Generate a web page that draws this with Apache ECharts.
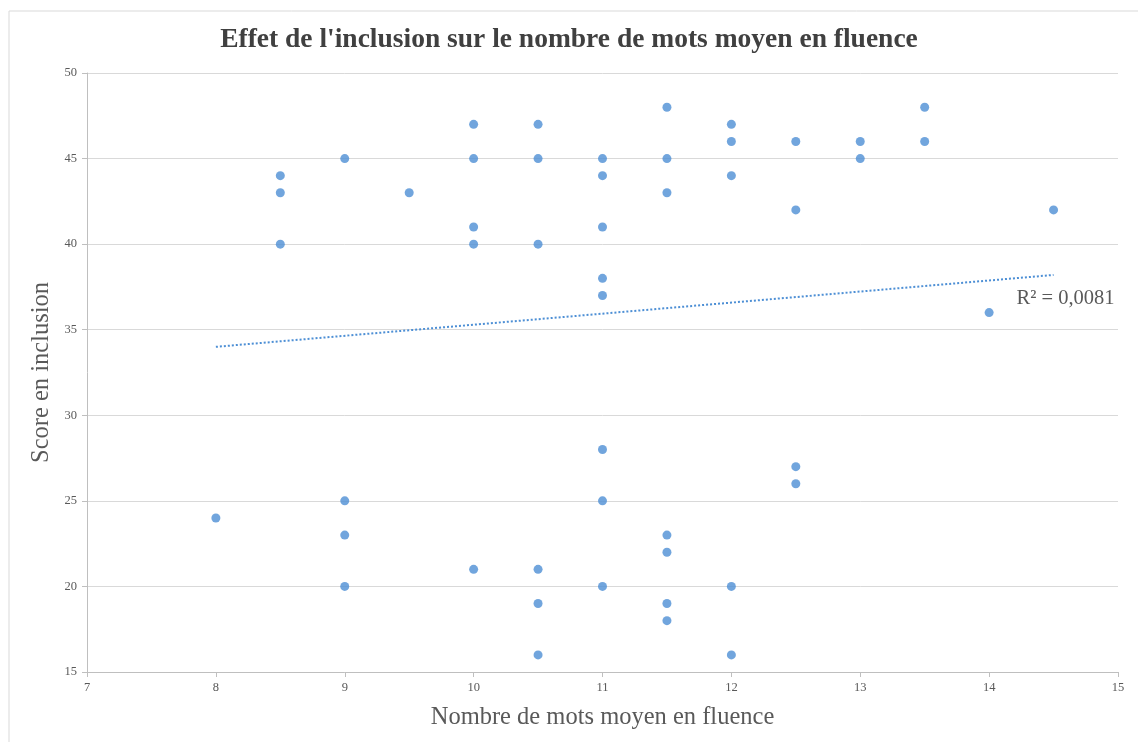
<!DOCTYPE html>
<html>
<head>
<meta charset="utf-8">
<script src="https://cdn.jsdelivr.net/npm/echarts@6/dist/echarts.min.js"></script>
<style>
html,body{margin:0;padding:0;background:#fff;}
#chart{width:1138px;height:742px;}
</style>
</head>
<body>
<div id="chart"></div>
<script>
// Data
const titleText = "Effet de l'inclusion sur le nombre de mots moyen en fluence";
const xAxisTitle = "Nombre de mots moyen en fluence";
const yAxisTitle = "Score en inclusion";
const r2Label = "R² = 0,0081";

const fluence = [
  8,
  8.5, 8.5, 8.5,
  9, 9, 9, 9,
  9.5,
  10, 10, 10, 10, 10,
  10.5, 10.5, 10.5, 10.5, 10.5, 10.5,
  11, 11, 11, 11, 11, 11, 11, 11,
  11.5, 11.5, 11.5, 11.5, 11.5, 11.5, 11.5,
  12, 12, 12, 12, 12,
  12.5, 12.5, 12.5, 12.5,
  13, 13,
  13.5, 13.5,
  14,
  14.5
];
const inclusion = [
  24,
  44, 43, 40,
  45, 25, 23, 20,
  43,
  47, 45, 41, 40, 21,
  47, 45, 40, 21, 19, 16,
  45, 44, 41, 38, 37, 28, 25, 20,
  48, 45, 43, 23, 22, 19, 18,
  47, 46, 44, 20, 16,
  46, 42, 27, 26,
  46, 45,
  48, 46,
  36,
  42
];
// Trend line end points
const trendX = [8, 14.5];
const trendY = [34.0, 38.2];

const xTicks = {min: 7, max: 15, interval: 1};
const yTicks = {min: 15, max: 50, interval: 5};

const points = fluence.map((x, i) => [x, inclusion[i]]);
const trend = trendX.map((x, i) => [x, trendY[i]]);

const serif = "'Liberation Serif', 'DejaVu Serif', serif";
const blue = '#4d8fd5';

const chart = echarts.init(document.getElementById('chart'));
chart.setOption({
  animation: false,
  backgroundColor: '#fff',
  graphic: [{
    type: 'rect',
    shape: {x: 9, y: 11, width: 1160, height: 760},
    style: {fill: 'none', stroke: '#d9d9d9', lineWidth: 1},
    silent: true
  }],
  title: {
    text: titleText,
    left: 'center',
    top: 21,
    textStyle: {fontFamily: serif, fontSize: 27.5, fontWeight: 'bold', color: '#404040'}
  },
  grid: {left: 87, right: 20, top: 73, bottom: 70},
  xAxis: {
    type: 'value',
    min: xTicks.min, max: xTicks.max, interval: xTicks.interval,
    name: xAxisTitle,
    nameLocation: 'middle',
    nameGap: 33,
    nameTextStyle: {fontFamily: serif, fontSize: 24.5, color: '#595959'},
    axisLine: {show: true, lineStyle: {color: '#bfbfbf', width: 1}},
    axisTick: {show: true, length: 5, lineStyle: {color: '#bfbfbf'}},
    axisLabel: {fontFamily: serif, fontSize: 12.5, color: '#595959', margin: 9},
    splitLine: {show: false}
  },
  yAxis: {
    type: 'value',
    min: yTicks.min, max: yTicks.max, interval: yTicks.interval,
    name: yAxisTitle,
    nameLocation: 'middle',
    nameGap: 32,
    nameRotate: 90,
    nameTextStyle: {fontFamily: serif, fontSize: 24.5, color: '#595959'},
    axisLine: {show: true, lineStyle: {color: '#bfbfbf', width: 1}},
    axisTick: {show: true, length: 5, lineStyle: {color: '#bfbfbf'}},
    axisLabel: {fontFamily: serif, fontSize: 12.5, color: '#595959', margin: 10},
    splitLine: {show: true, lineStyle: {color: '#d9d9d9', width: 1}}
  },
  series: [
    {
      type: 'scatter',
      data: points,
      symbol: 'circle',
      symbolSize: 9,
      itemStyle: {color: blue},
      z: 3
    },
    {
      type: 'line',
      data: trend,
      showSymbol: false,
      symbol: 'none',
      lineStyle: {color: blue, width: 2, type: [2, 2]},
      endLabel: {
        show: true,
        formatter: r2Label,
        fontFamily: serif,
        fontSize: 20.5,
        color: '#595959',
        offset: [-45, 24]
      },
      z: 2
    }
  ]
});
</script>
</body>
</html>
